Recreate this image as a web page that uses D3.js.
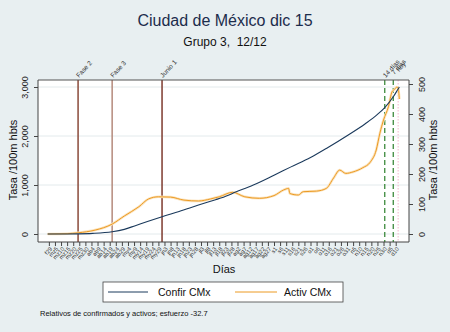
<!DOCTYPE html>
<html>
<head>
<meta charset="utf-8">
<script src="https://cdn.jsdelivr.net/npm/d3@7"></script>
<style>
  body { margin: 0; background: #e8eff1; }
  svg { font-family: "Liberation Sans", Arial, sans-serif; }
</style>
</head>
<body>
<div id="chart"></div>
<script>
// confirmados (eje izq) y activos (eje der), tasa por 100 mil hbts
const confirDates = ["2020-02-28","2020-03-15","2020-03-24","2020-04-05","2020-04-21","2020-05-01","2020-05-10","2020-05-20","2020-06-01","2020-06-15","2020-07-01","2020-07-15","2020-07-20","2020-08-01","2020-08-15","2020-09-01","2020-09-15","2020-10-01","2020-10-15","2020-11-01","2020-11-15","2020-11-25","2020-12-01","2020-12-08","2020-12-12","2020-12-13"];
const confirValues = [0, 1, 3, 12, 45, 95, 170, 255, 353, 460, 590, 700, 740, 860, 1000, 1200, 1370, 1560, 1760, 2020, 2250, 2440, 2580, 2800, 2960, 3000];

const activDates = ["2020-02-28","2020-03-15","2020-03-24","2020-04-07","2020-04-21","2020-05-01","2020-05-13","2020-05-21","2020-05-29","2020-06-08","2020-06-19","2020-07-01","2020-07-11","2020-07-18","2020-07-29","2020-08-08","2020-08-20","2020-09-01","2020-09-09","2020-09-13","2020-09-14","2020-09-21","2020-09-25","2020-10-06","2020-10-14","2020-10-20","2020-10-25","2020-10-30","2020-11-05","2020-11-13","2020-11-19","2020-11-24","2020-11-27","2020-11-30","2020-12-04","2020-12-07","2020-12-09","2020-12-11","2020-12-12","2020-12-13"];
const activValues = [0, 1, 4, 13, 33, 60, 91, 117, 124, 123, 113, 110, 117, 124, 139, 124, 119, 128, 147, 152, 135, 130, 141, 143, 152, 187, 213, 202, 207, 221, 239, 280, 336, 380, 424, 474, 482, 490, 486, 450];

const eventDates = ["2020-03-24","2020-04-21","2020-06-01","2020-12-01","2020-12-08","2020-12-12"];
const eventLabels = ["Fase 2","Fase 3","Junio 1","14 días","7 días","hoy"];

const leftTicks = [0, 1000, 2000, 3000];
const rightTicks = [0, 100, 200, 300, 400, 500];

const width = 450, height = 332;
const parse = d3.timeParse("%Y-%m-%d");

const svg = d3.select("#chart").append("svg")
  .attr("width", width).attr("height", height);

svg.append("rect").attr("width", width).attr("height", height).attr("fill", "#e8eff1");

const x = d3.scaleTime()
  .domain([parse("2020-02-25"), parse("2020-12-16")])
  .range([44, 403]);
const yL = d3.scaleLinear().domain([0, 3000]).range([234, 87]);
const yR = d3.scaleLinear().domain([0, 500]).range([234, 84]);

const plotL = 38, plotR = 409, plotT = 80, plotB = 242;

// plot area
svg.append("rect")
  .attr("x", plotL).attr("y", plotT)
  .attr("width", plotR - plotL).attr("height", plotB - plotT)
  .attr("fill", "white");

// grid
svg.selectAll(".grid").data(leftTicks).enter().append("line")
  .attr("x1", plotL).attr("x2", plotR)
  .attr("y1", d => yL(d)).attr("y2", d => yL(d))
  .attr("stroke", "#e3eaec").attr("stroke-width", 1);

// title
svg.append("text").attr("x", 225).attr("y", 26).attr("text-anchor", "middle")
  .attr("font-size", 16).attr("fill", "#1c2c4c").text("Ciudad de México dic 15");
svg.append("text").attr("x", 225).attr("y", 46).attr("text-anchor", "middle")
  .attr("font-size", 12).attr("fill", "#111").style("white-space", "pre")
  .text("Grupo 3,  12/12");

// event lines
const evColors = ["#8a4a3a","#b58a7c","#7d3a2e","#3c8a3c","#3c8a3c","#f4b6cc"];
const evDash = [null, null, null, "5,3", "5,3", "1.5,1.5"];
const evW = [1.5, 1.5, 1.5, 1.3, 1.3, 1];
svg.selectAll(".ev").data(eventDates).enter().append("line")
  .attr("x1", d => x(parse(d))).attr("x2", d => x(parse(d)))
  .attr("y1", plotT).attr("y2", plotB)
  .attr("stroke", (d, i) => evColors[i])
  .attr("stroke-width", (d, i) => evW[i])
  .attr("stroke-dasharray", (d, i) => evDash[i]);

// event labels
svg.selectAll(".evl").data(eventDates).enter().append("text")
  .attr("transform", (d, i) => `translate(${x(parse(d)) + 1},${plotT - 2 - (i === 4 ? 3 : i === 5 ? 6 : 0)}) rotate(-48)`)
  .attr("font-size", 6.5).attr("fill", "#333")
  .text((d, i) => eventLabels[i]);

// series
const confir = confirDates.map((d, i) => ({ date: parse(d), v: confirValues[i] }));
const activ = activDates.map((d, i) => ({ date: parse(d), v: activValues[i] }));

const lineL = d3.line().x(d => x(d.date)).y(d => yL(d.v)).curve(d3.curveMonotoneX);
const lineR = d3.line().x(d => x(d.date)).y(d => yR(d.v)).curve(d3.curveMonotoneX);

svg.append("path").datum(activ).attr("d", lineR)
  .attr("fill", "none").attr("stroke", "#fbe3bd").attr("stroke-width", 2.6);
svg.append("path").datum(activ).attr("d", lineR)
  .attr("fill", "none").attr("stroke", "#ec9a22").attr("stroke-width", 1);
svg.append("path").datum(confir).attr("d", lineL)
  .attr("fill", "none").attr("stroke", "#1b3a5c").attr("stroke-width", 1.1);

// frame top
svg.append("line").attr("x1", plotL).attr("x2", plotR).attr("y1", plotT).attr("y2", plotT)
  .attr("stroke", "#555").attr("stroke-width", 1.2);

// left axis
const axL = svg.append("g").attr("transform", `translate(${plotL},0)`)
  .call(d3.axisLeft(yL).tickValues(leftTicks).tickSize(4).tickFormat(d3.format(",")));
axL.select(".domain").attr("d", `M0,${plotT}V${plotB}`).attr("stroke", "#444");
axL.selectAll(".tick line").attr("stroke", "#444");
axL.selectAll(".tick text")
  .attr("x", null).attr("dy", null)
  .attr("transform", "translate(-10,0) rotate(-90)")
  .attr("text-anchor", "middle").attr("font-size", 9).attr("fill", "#222");

// right axis
const axR = svg.append("g").attr("transform", `translate(${plotR},0)`)
  .call(d3.axisRight(yR).tickValues(rightTicks).tickSize(4));
axR.select(".domain").attr("d", `M0,${plotT}V${plotB}`).attr("stroke", "#444");
axR.selectAll(".tick line").attr("stroke", "#444");
axR.selectAll(".tick text")
  .attr("x", null).attr("dy", null)
  .attr("transform", "translate(10,0) rotate(-90)")
  .attr("text-anchor", "middle").attr("dominant-baseline", "hanging")
  .attr("font-size", 9).attr("fill", "#222");

// bottom axis
const tickDates = d3.timeDay.range(parse("2020-02-29"), parse("2020-12-14"), 5);
const fmtMes = ["en","f","mz","ab","my","jn","jl","ag","s","o","n","d"];
const axB = svg.append("g").attr("transform", `translate(0,${plotB})`)
  .call(d3.axisBottom(x).tickValues(tickDates).tickSize(4)
    .tickFormat(d => fmtMes[d.getMonth()] + d.getDate()));
axB.select(".domain").attr("d", `M${plotL},0H${plotR}`).attr("stroke", "#444");
axB.selectAll(".tick line").attr("stroke", "#444");
axB.selectAll(".tick text")
  .attr("y", null).attr("dy", null)
  .attr("transform", "translate(2,6) rotate(-50)")
  .attr("text-anchor", "end").attr("dominant-baseline", "middle")
  .attr("font-size", 5.8).attr("fill", "#333");

// axis titles
svg.append("text").attr("transform", "translate(17,160) rotate(-90)")
  .attr("text-anchor", "middle").attr("font-size", 11).attr("fill", "#111")
  .text("Tasa /100m hbts");
svg.append("text").attr("transform", "translate(429,160) rotate(-90)")
  .attr("text-anchor", "middle").attr("dominant-baseline", "hanging")
  .attr("font-size", 11).attr("fill", "#111")
  .text("Tasa /100m hbts");
svg.append("text").attr("x", 224).attr("y", 273).attr("text-anchor", "middle")
  .attr("font-size", 11).attr("fill", "#111").text("Días");

// legend
svg.append("rect").attr("x", 103).attr("y", 282).attr("width", 240).attr("height", 20)
  .attr("fill", "white").attr("stroke", "#444").attr("stroke-width", 0.8);
svg.append("line").attr("x1", 108).attr("x2", 148).attr("y1", 292).attr("y2", 292)
  .attr("stroke", "#1b3a5c").attr("stroke-width", 1);
svg.append("text").attr("x", 158).attr("y", 296).attr("font-size", 10.5).attr("fill", "#111").text("Confir CMx");
svg.append("line").attr("x1", 235).attr("x2", 277).attr("y1", 292).attr("y2", 292)
  .attr("stroke", "#ec9a22").attr("stroke-width", 1);
svg.append("text").attr("x", 284).attr("y", 296).attr("font-size", 10.5).attr("fill", "#111").text("Activ CMx");

// nota
svg.append("text").attr("x", 40).attr("y", 316).attr("font-size", 7.5).attr("fill", "#111")
  .text("Relativos de confirmados y activos; esfuerzo -32.7");
</script>
</body>
</html>
